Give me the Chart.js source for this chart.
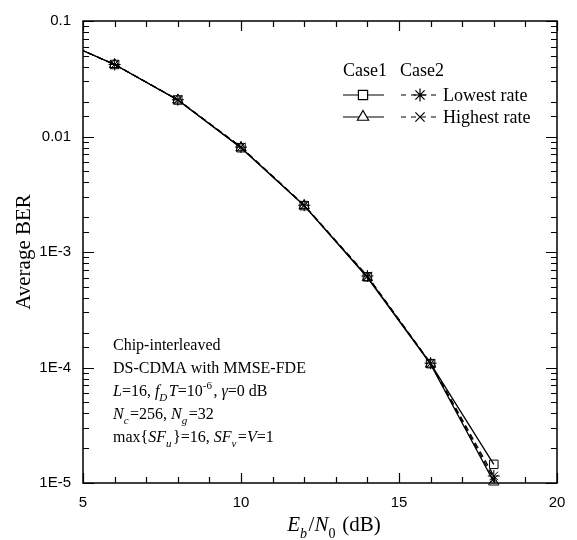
<!DOCTYPE html>
<html>
<head>
<meta charset="utf-8">
<script src="https://cdn.jsdelivr.net/npm/chart.js@4.4.1/dist/chart.umd.min.js"></script>
<style>
  html, body { margin: 0; padding: 0; background: #fff; }
</style>
</head>
<body>
<canvas id="chart" width="577" height="540"></canvas>
<script>
// Eb/N0 in dB (4 dB is just outside the plot, it only carries the line to the left edge)
const ebno = [4, 6, 8, 10, 12, 14, 16, 18];
const case1Lowest  = [0.073, 0.042, 0.0207, 0.0080, 0.00252, 6.1e-4, 1.08e-4, 1.45e-5];
const case1Highest = [0.073, 0.042, 0.0207, 0.0080, 0.00252, 6.0e-4, 1.07e-4, 1.02e-5];
const case2Lowest  = [0.073, 0.042, 0.0208, 0.0081, 0.00254, 6.2e-4, 1.09e-4, 1.15e-5];
const case2Highest = [0.073, 0.042, 0.0208, 0.0081, 0.00253, 6.1e-4, 1.08e-4, 1.08e-5];

const yTickLabels = { "0.1": "0.1", "0.01": "0.01", "0.001": "1E-3", "0.0001": "1E-4", "0.00001": "1E-5" };

const SERIF = '"Liberation Serif", "Times New Roman", serif';
const SANS = '"Liberation Sans", Arial, sans-serif';

function pts(ys) {
  return ebno.map((x, i) => ({ x: x, y: ys[i] }));
}

function series(label, ys, style, dashed) {
  return {
    label: label,
    data: pts(ys),
    borderColor: "#000",
    borderWidth: 1.3,
    borderDash: dashed ? [6, 4] : [],
    pointStyle: style,
    pointRadius: 6,
    pointBorderWidth: 1,
    pointBorderColor: "#000",
    pointBackgroundColor: "rgba(255,255,255,0)",
    tension: 0,
    clip: { left: 0, top: 0, right: 0, bottom: 10 },
  };
}

// rich text with italic / subscript / superscript runs
function runFont(st, size) {
  const it = st.includes("i");
  const small = st.includes("b") || st.includes("p");
  const fs = small ? Math.round(size * 0.68) : size;
  return (it ? "italic " : "") + fs + "px " + SERIF;
}

function drawRich(ctx, x, y, runs, size) {
  runs.forEach(([txt, st]) => {
    st = st || "";
    ctx.font = runFont(st, size);
    const dy = st.includes("b") ? size * 0.32 : st.includes("p") ? -size * 0.42 : 0;
    ctx.fillText(txt, x, y + dy);
    x += ctx.measureText(txt).width + (st.includes("b") || st.includes("p") ? 1.5 : 0);
  });
  return x;
}

function richWidth(ctx, runs, size) {
  let w = 0;
  runs.forEach(([txt, st]) => {
    st = st || "";
    ctx.font = runFont(st, size);
    w += ctx.measureText(txt).width + (st.includes("b") || st.includes("p") ? 1.5 : 0);
  });
  return w;
}

function marker(ctx, style, x, y, r) {
  ctx.beginPath();
  if (style === "rect") {
    const s = r * Math.SQRT1_2;
    ctx.rect(x - s, y - s, 2 * s, 2 * s);
    ctx.fillStyle = "#fff";
    ctx.fill();
  } else if (style === "triangle") {
    ctx.moveTo(x, y - r);
    ctx.lineTo(x + r * 0.866, y + r * 0.5);
    ctx.lineTo(x - r * 0.866, y + r * 0.5);
    ctx.closePath();
    ctx.fillStyle = "#fff";
    ctx.fill();
  } else if (style === "star") {
    const d = r * Math.SQRT1_2;
    ctx.moveTo(x, y - r); ctx.lineTo(x, y + r);
    ctx.moveTo(x - r, y); ctx.lineTo(x + r, y);
    ctx.moveTo(x - d, y - d); ctx.lineTo(x + d, y + d);
    ctx.moveTo(x - d, y + d); ctx.lineTo(x + d, y - d);
  } else if (style === "crossRot") {
    const d = r * Math.SQRT1_2;
    ctx.moveTo(x - d, y - d); ctx.lineTo(x + d, y + d);
    ctx.moveTo(x - d, y + d); ctx.lineTo(x + d, y - d);
  }
  ctx.stroke();
}

const framePlugin = {
  id: "frame",
  afterDraw(chart) {
    const ctx = chart.ctx;
    const a = chart.chartArea;
    const xs = chart.scales.x;
    const ys = chart.scales.y;
    ctx.save();
    ctx.strokeStyle = "#000";
    ctx.fillStyle = "#000";
    ctx.lineWidth = 1.5;
    ctx.setLineDash([]);
    ctx.strokeRect(a.left, a.top, a.right - a.left, a.bottom - a.top);

    // inward ticks, all four sides
    ctx.lineWidth = 1.2;
    ctx.beginPath();
    xs.ticks.forEach(t => {
      const px = Math.round(xs.getPixelForValue(t.value)) + 0.5;
      const len = t.value % 5 === 0 ? 10 : 6;
      ctx.moveTo(px, a.bottom); ctx.lineTo(px, a.bottom - len);
      ctx.moveTo(px, a.top); ctx.lineTo(px, a.top + len);
    });
    ys.ticks.forEach(t => {
      const py = Math.round(ys.getPixelForValue(t.value)) + 0.5;
      const lg = Math.log10(t.value);
      const len = Math.abs(lg - Math.round(lg)) < 1e-6 ? 11 : 6;
      ctx.moveTo(a.left, py); ctx.lineTo(a.left + len, py);
      ctx.moveTo(a.right, py); ctx.lineTo(a.right - len, py);
    });
    ctx.stroke();

    // x axis title
    ctx.textBaseline = "alphabetic";
    ctx.textAlign = "left";
    const xt = [["E", "i"], ["b", "ib"], ["/"], ["N", "i"], ["0", "b"], [" (dB)"]];
    const w = richWidth(ctx, xt, 21);
    drawRich(ctx, 334 - w / 2, 531, xt, 21);

    // legend
    ctx.font = "18px " + SERIF;
    ctx.fillText("Case1", 343, 76);
    ctx.fillText("Case2", 400, 76);
    const rows = [
      { y: 95, s1: "rect", s2: "star", text: "Lowest rate" },
      { y: 117, s1: "triangle", s2: "crossRot", text: "Highest rate" },
    ];
    ctx.lineWidth = 1.2;
    rows.forEach(r => {
      ctx.setLineDash([]);
      ctx.beginPath();
      ctx.moveTo(343, r.y); ctx.lineTo(384, r.y);
      ctx.stroke();
      marker(ctx, r.s1, 363, r.y, 6.5);
      ctx.setLineDash([5, 5]);
      ctx.beginPath();
      ctx.moveTo(401, r.y); ctx.lineTo(441, r.y);
      ctx.stroke();
      ctx.setLineDash([]);
      marker(ctx, r.s2, 420, r.y, 6.5);
      ctx.fillStyle = "#000";
      ctx.font = "18px " + SERIF;
      ctx.fillText(r.text, 443, r.y + 6);
    });

    // annotation block
    const fs = 16;
    const lines = [
      [["Chip-interleaved"]],
      [["DS-CDMA with MMSE-FDE"]],
      [["L", "i"], ["=16, "], ["f", "i"], ["D", "ib"], ["T", "i"], ["=10"], ["-6", "p"], [", "], ["\u03b3", "i"], ["=0 dB"]],
      [["N", "i"], ["c", "ib"], ["=256, "], ["N", "i"], ["g", "ib"], ["=32"]],
      [["max{"], ["SF", "i"], ["u", "ib"], ["}=16, "], ["SF", "i"], ["v", "ib"], ["="], ["V", "i"], ["=1"]],
    ];
    lines.forEach((ln, i) => drawRich(ctx, 113, 350 + i * 23, ln, fs));
    ctx.restore();
  },
};

new Chart(document.getElementById("chart"), {
  type: "line",
  data: {
    datasets: [
      series("Case1 Lowest rate", case1Lowest, "rect", false),
      series("Case1 Highest rate", case1Highest, "triangle", false),
      series("Case2 Lowest rate", case2Lowest, "star", true),
      series("Case2 Highest rate", case2Highest, "crossRot", true),
    ],
  },
  options: {
    responsive: false,
    animation: false,
    layout: { padding: { left: 0, right: 20, top: 13, bottom: 0 } },
    plugins: {
      legend: { display: false },
      tooltip: { enabled: false },
    },
    scales: {
      x: {
        type: "linear",
        min: 5,
        max: 20,
        grid: { display: false, drawTicks: false },
        border: { display: false },
        ticks: {
          stepSize: 1,
          autoSkip: false,
          maxRotation: 0,
          padding: 11,
          color: "#000",
          font: { family: SANS, size: 15 },
          callback: v => (v % 5 === 0 ? String(v) : ""),
        },
        afterFit: s => { s.height = 57; },
      },
      y: {
        type: "logarithmic",
        min: 1e-5,
        max: 0.1,
        grid: { display: false, drawTicks: false },
        border: { display: false },
        title: {
          display: true,
          text: "Average BER",
          color: "#000",
          font: { family: SERIF, size: 21 },
          padding: { top: 12, bottom: 0 },
        },
        ticks: {
          autoSkip: false,
          padding: 12,
          color: "#000",
          font: { family: SANS, size: 15 },
          callback: v => yTickLabels[String(v)] || "",
        },
        afterFit: s => { s.width = 83; },
      },
    },
  },
  plugins: [framePlugin],
});
</script>
</body>
</html>
